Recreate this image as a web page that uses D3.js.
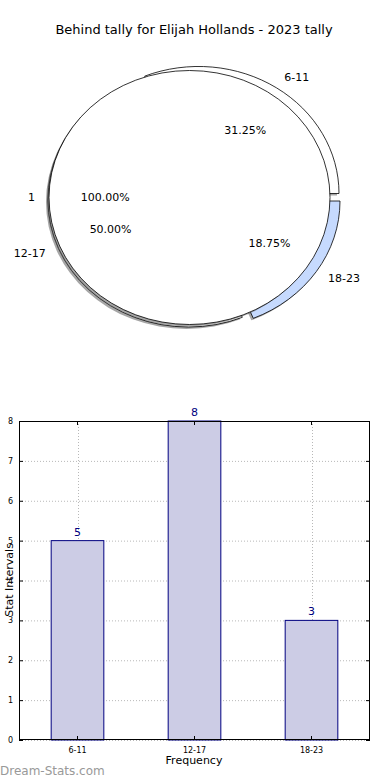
<!DOCTYPE html>
<html><head><meta charset="utf-8">
<script src="https://cdn.jsdelivr.net/npm/d3@7"></script>
<style>
html,body{margin:0;padding:0;background:#fff;}
svg{display:block;font-family:"DejaVu Sans",sans-serif;}
</style></head>
<body>
<svg id="c" width="390" height="780"></svg>
<script>
const title = "Behind tally for Elijah Hollands - 2023 tally";
const categories = ["6-11", "12-17", "18-23"];
const values = [5, 8, 3];
const outerLabel = ["1"];
const outerValues = [1];
const sliceColors = ["#ffffff", "#ffffff", "#c6dafe"];
const yTicks = [0, 1, 2, 3, 4, 5, 6, 7, 8];
const xLabel = "Frequency";
const yLabel = "Stat Intervals";
const watermark = "Dream-Stats.com";

const svg = d3.select("#c");

// Title
svg.append("text").attr("x", 194).attr("y", 34).attr("text-anchor", "middle")
  .attr("font-size", 13).text(title);

// ---------- Pie ----------
const cx = 189.5, cy = 197.5, rx = 140.5, ry = 127;
const offs = [[9, -4], [-1, 2.5], [10, 3.5]];
const shOff = [-2, 2];
const total = d3.sum(values);
const pie = d3.pie().sort(null).startAngle(0).endAngle(2 * Math.PI);
const arcs = pie(values);
const arcGen = d3.arc().innerRadius(0).outerRadius(1);
function d3arc(a) {
  return arcGen({startAngle: Math.PI / 2 - a.endAngle, endAngle: Math.PI / 2 - a.startAngle});
}
const pg = svg.append("g");
arcs.forEach((a, i) => {
  pg.append("path").attr("d", d3arc(a))
    .attr("transform", `translate(${cx + offs[i][0] + shOff[0]},${cy + offs[i][1] + shOff[1]}) scale(${rx},${ry})`)
    .attr("fill", "#4d4d4d").attr("fill-opacity", 0.5).attr("stroke", "none");
});
arcs.forEach((a, i) => {
  pg.append("path").attr("d", d3arc(a))
    .attr("transform", `translate(${cx + offs[i][0]},${cy + offs[i][1]}) scale(${rx},${ry})`)
    .attr("fill", sliceColors[i]).attr("stroke", "#000").attr("stroke-width", 0.8)
    .attr("vector-effect", "non-scaling-stroke").attr("stroke-linejoin", "round");
});
const outerArcs = pie(outerValues);
outerArcs.forEach(a => {
  pg.append("ellipse").attr("cx", cx + shOff[0]).attr("cy", cy + shOff[1]).attr("rx", rx).attr("ry", ry)
    .attr("fill", "#4d4d4d").attr("fill-opacity", 0.5);
  pg.append("ellipse").attr("cx", cx).attr("cy", cy).attr("rx", rx).attr("ry", ry)
    .attr("fill", "#fff").attr("stroke", "#000").attr("stroke-width", 0.8);
});
function lbl(x, y, txt, anchor) {
  pg.append("text").attr("x", x).attr("y", y).attr("dy", "0.35em")
    .attr("text-anchor", anchor).attr("font-size", 11).attr("fill", "#000").text(txt);
}
outerArcs.forEach((a, i) => {
  const m = (a.startAngle + a.endAngle) / 2;
  lbl(cx + 1.1 * rx * Math.cos(m), cy - 1.1 * ry * Math.sin(m), outerLabel[i], Math.cos(m) > 0 ? "start" : "end");
  lbl(cx + 0.6 * rx * Math.cos(m), cy - 0.6 * ry * Math.sin(m), (100 * outerValues[i] / d3.sum(outerValues)).toFixed(2) + "%", "middle");
});
arcs.forEach((a, i) => {
  const m = (a.startAngle + a.endAngle) / 2;
  const ox = cx + offs[i][0], oy = cy + offs[i][1];
  lbl(ox + 1.1 * rx * Math.cos(m), oy - 1.1 * ry * Math.sin(m), categories[i], Math.cos(m) > 0 ? "start" : "end");
  lbl(ox + 0.6 * rx * Math.cos(m), oy - 0.6 * ry * Math.sin(m), (100 * values[i] / total).toFixed(2) + "%", "middle");
});

// ---------- Bar chart ----------
const L = 19, R = 370, T = 421, B = 740;
const x = d3.scaleBand().domain(categories).range([L, R]).padding(0);
const y = d3.scaleLinear().domain([0, 8]).range([B, T]);
const bg = svg.append("g");
bg.selectAll(".gy").data(yTicks).enter().append("line")
  .attr("x1", L).attr("x2", R).attr("y1", d => y(d) + 0.5).attr("y2", d => y(d) + 0.5)
  .attr("stroke", "#b8b8b8").attr("stroke-width", 1).attr("stroke-dasharray", "1,2");
bg.selectAll(".gx").data(categories).enter().append("line")
  .attr("x1", d => Math.round(x(d) + x.bandwidth() / 2) + 0.5).attr("x2", d => Math.round(x(d) + x.bandwidth() / 2) + 0.5)
  .attr("y1", T).attr("y2", B)
  .attr("stroke", "#b8b8b8").attr("stroke-width", 1).attr("stroke-dasharray", "1,2");
const bw = x.bandwidth() * 0.45;
bg.selectAll(".bar").data(values).enter().append("rect")
  .attr("x", (d, i) => x(categories[i]) + x.bandwidth() / 2 - bw / 2)
  .attr("y", d => y(d)).attr("width", bw).attr("height", d => B - y(d))
  .attr("fill", "#ccccE5").attr("stroke", "#000080").attr("stroke-width", 1);
bg.selectAll(".vl").data(values).enter().append("text")
  .attr("x", (d, i) => x(categories[i]) + x.bandwidth() / 2).attr("y", d => y(d) - 5)
  .attr("text-anchor", "middle").attr("font-size", 11).attr("fill", "#000080").text(d => d);
bg.append("rect").attr("x", L + 0.5).attr("y", T + 0.5).attr("width", R - L - 1).attr("height", B - T - 1)
  .attr("fill", "none").attr("stroke", "#000").attr("stroke-width", 1);
const ya = d3.axisLeft(y).tickValues(yTicks).tickSize(-4).tickPadding(6).tickFormat(d3.format("d"));
const yg = bg.append("g").attr("transform", `translate(${L},0)`).call(ya);
const ya2 = d3.axisRight(y).tickValues(yTicks).tickSize(-4).tickFormat("");
const yg2 = bg.append("g").attr("transform", `translate(${R},0)`).call(ya2);
const xa = d3.axisBottom(x).tickSize(-4).tickPadding(7);
const xg = bg.append("g").attr("transform", `translate(0,${B})`).call(xa);
const xa2 = d3.axisTop(x).tickSize(-4).tickFormat("");
const xg2 = bg.append("g").attr("transform", `translate(0,${T})`).call(xa2);
[yg, yg2, xg, xg2].forEach(g => {
  g.select(".domain").remove();
  g.selectAll("text").attr("font-size", 8).attr("font-family", "DejaVu Sans").attr("fill", "#000");
});
svg.append("text").attr("x", 194).attr("y", 764).attr("text-anchor", "middle").attr("font-size", 11).text(xLabel);
svg.append("text").attr("transform", `translate(9,580) rotate(-90)`).attr("text-anchor", "middle")
  .attr("dy", "0.35em").attr("font-size", 11).text(yLabel);
svg.append("text").attr("x", 0).attr("y", 775).attr("font-size", 12)
  .attr("fill", "#999999").text(watermark);
</script>
</body></html>
